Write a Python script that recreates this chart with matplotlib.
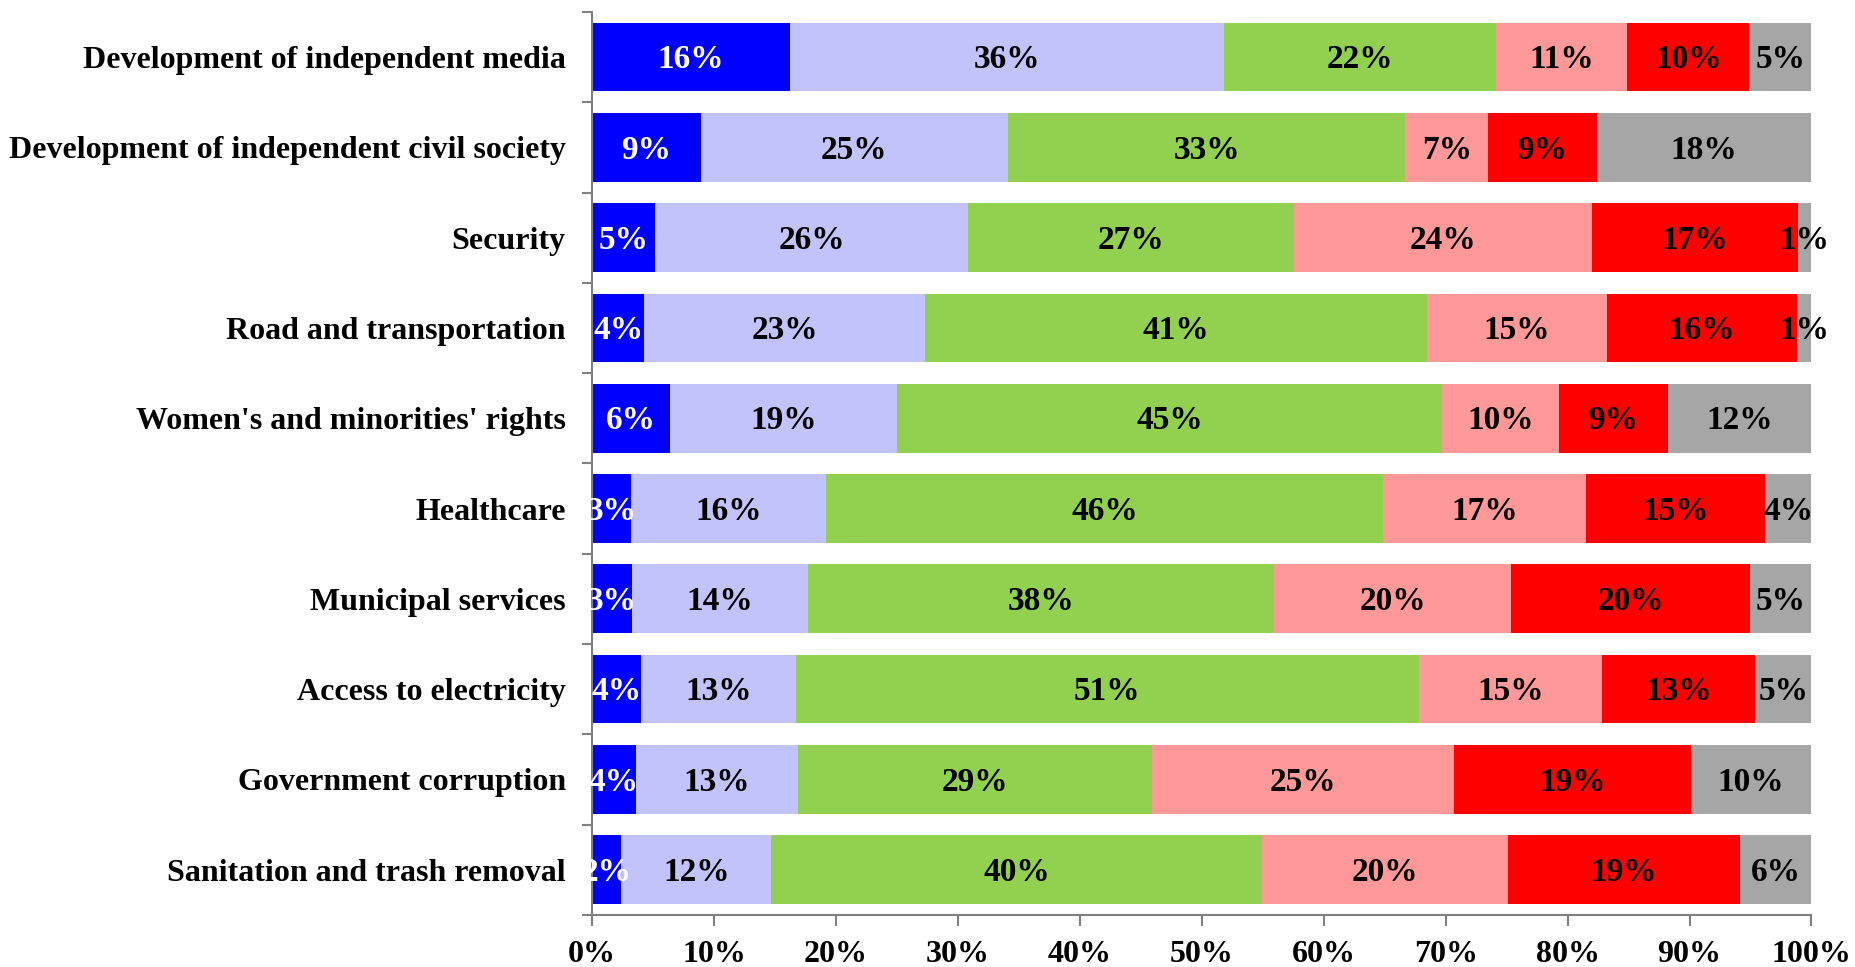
import numpy as np
import matplotlib
matplotlib.use('Agg')
import matplotlib.pyplot as plt
from matplotlib.ticker import FixedLocator

categories = ['Development of independent media',
              'Development of independent civil society',
              'Security',
              'Road and transportation',
              "Women's and minorities' rights",
              'Healthcare',
              'Municipal services',
              'Access to electricity',
              'Government corruption',
              'Sanitation and trash removal']

# segment shares in %, left to right
seg1 = [16.2, 8.9, 5.2, 4.3, 6.4, 3.2, 3.3, 4.0, 3.6, 2.4]
seg2 = [35.6, 25.2, 25.6, 23.0, 18.6, 16.0, 14.4, 12.7, 13.3, 12.3]
seg3 = [22.3, 32.6, 26.8, 41.2, 44.7, 45.7, 38.2, 51.1, 29.0, 40.2]
seg4 = [10.8, 6.8, 24.4, 14.7, 9.6, 16.6, 19.5, 15.0, 24.8, 20.2]
seg5 = [10.0, 8.9, 16.9, 15.6, 8.9, 14.7, 19.6, 12.6, 19.4, 19.0]
seg6 = [5.1, 17.6, 1.1, 1.2, 11.8, 3.8, 5.0, 4.6, 9.9, 5.9]

xticks = list(range(0, 101, 10))

series = [seg1, seg2, seg3, seg4, seg5, seg6]
colors = ['#0000FF', '#C3C3FB', '#92D050', '#FF9999', '#FF0000', '#A6A6A6']
text_colors = ['white', 'black', 'black', 'black', 'black', 'black']

plt.rcParams['font.family'] = ['Liberation Serif', 'DejaVu Serif']
plt.rcParams['font.weight'] = 'bold'

fig = plt.figure(figsize=(18.56, 9.67), dpi=100)
ax = fig.add_axes([0.319, 0.054, 0.657, 0.9336])

y = np.arange(len(categories))
left = np.zeros(len(categories))
for vals, col, tcol in zip(series, colors, text_colors):
    vals = np.array(vals)
    ax.barh(y, vals, left=left, height=0.76, color=col, edgecolor='none')
    for yi, l, v in zip(y, left, vals):
        ax.text(l + v / 2, yi + 0.03, '%d%%' % round(v), ha='center', va='center',
                fontsize=24, fontweight='bold', color=tcol)
    left += vals

ax.set_xlim(0, 100)
ax.set_ylim(len(categories) - 0.5, -0.5)
ax.set_xticks(xticks)
ax.set_xticklabels(['%d%%' % t for t in xticks])
ax.set_yticks(y)
ax.set_yticklabels(categories)
ax.yaxis.set_minor_locator(FixedLocator(np.arange(-0.5, len(categories), 1)))

for s in ['top', 'right']:
    ax.spines[s].set_visible(False)
for s in ['left', 'bottom']:
    ax.spines[s].set_color('#808080')
    ax.spines[s].set_linewidth(1.5)

ax.tick_params(axis='y', which='major', length=0, pad=19, labelsize=23)
ax.tick_params(axis='y', which='minor', length=7, width=1.5, color='#808080')
ax.tick_params(axis='x', which='major', length=8, width=1.5, color='#808080',
               pad=10, labelsize=23)

plt.savefig('out.png', dpi=100)
